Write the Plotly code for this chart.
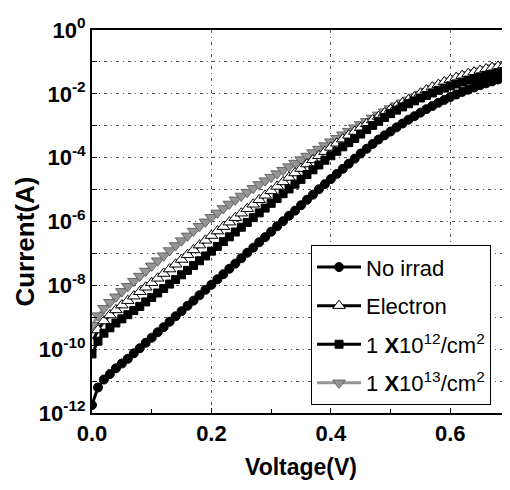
import plotly.graph_objects as go

voltage = [round(i * 0.01, 2) for i in range(71)]

# log10(current in A), one value per 0.01 V
log_no_irrad = [
    -11.75, -11.20, -10.95, -10.78, -10.60, -10.45, -10.30, -10.13, -9.97, -9.80,
    -9.64, -9.47, -9.31, -9.14, -8.97, -8.81, -8.64, -8.48, -8.31, -8.14,
    -7.98, -7.81, -7.65, -7.48, -7.32, -7.15, -6.98, -6.82, -6.65, -6.49,
    -6.32, -6.15, -5.99, -5.82, -5.66, -5.49, -5.32, -5.16, -4.99, -4.83,
    -4.67, -4.51, -4.35, -4.19, -4.03, -3.87, -3.72, -3.57, -3.43, -3.30,
    -3.18, -3.05, -2.93, -2.81, -2.70, -2.59, -2.48, -2.38, -2.28, -2.19,
    -2.10, -2.02, -1.94, -1.87, -1.80, -1.73, -1.67, -1.61, -1.55, -1.50,
    -1.45,
]
log_electron = [
    -9.80, -9.40, -9.12, -8.93, -8.77, -8.62, -8.48, -8.34, -8.20, -8.06,
    -7.92, -7.78, -7.63, -7.49, -7.34, -7.19, -7.04, -6.89, -6.74, -6.59,
    -6.44, -6.30, -6.16, -6.02, -5.88, -5.74, -5.60, -5.46, -5.32, -5.18,
    -5.04, -4.90, -4.76, -4.62, -4.48, -4.34, -4.20, -4.07, -3.94, -3.81,
    -3.68, -3.55, -3.42, -3.30, -3.18, -3.06, -2.94, -2.82, -2.71, -2.60,
    -2.49, -2.39, -2.29, -2.19, -2.10, -1.98, -1.88, -1.79, -1.71, -1.63,
    -1.56, -1.49, -1.43, -1.37, -1.32, -1.27, -1.22, -1.18, -1.14, -1.10,
    -1.06,
]
log_1e12 = [
    -10.15, -9.75, -9.50, -9.33, -9.18, -9.05, -8.92, -8.79, -8.66, -8.52,
    -8.38, -8.24, -8.10, -7.96, -7.82, -7.67, -7.53, -7.38, -7.23, -7.08,
    -6.93, -6.78, -6.63, -6.48, -6.33, -6.18, -6.03, -5.88, -5.73, -5.58,
    -5.43, -5.28, -5.13, -4.98, -4.83, -4.68, -4.53, -4.38, -4.23, -4.08,
    -3.94, -3.80, -3.66, -3.53, -3.40, -3.26, -3.12, -2.99, -2.86, -2.74,
    -2.62, -2.51, -2.41, -2.31, -2.22, -2.13, -2.05, -1.97, -1.89, -1.82,
    -1.75, -1.69, -1.63, -1.57, -1.52, -1.47, -1.42, -1.38, -1.34, -1.30,
    -1.26,
]
log_1e13 = [
    -9.25, -8.95, -8.72, -8.53, -8.36, -8.19, -8.03, -7.87, -7.71, -7.55,
    -7.39, -7.23, -7.07, -6.91, -6.75, -6.60, -6.45, -6.30, -6.15, -6.01,
    -5.87, -5.73, -5.59, -5.45, -5.32, -5.20, -5.08, -4.96, -4.84, -4.72,
    -4.61, -4.50, -4.39, -4.28, -4.17, -4.06, -3.95, -3.84, -3.73, -3.62,
    -3.50, -3.39, -3.28, -3.17, -3.06, -2.96, -2.86, -2.76, -2.66, -2.56,
    -2.46, -2.37, -2.28, -2.19, -2.10, -2.01, -1.92, -1.83, -1.75, -1.67,
    -1.59, -1.52, -1.45, -1.39, -1.33, -1.28, -1.23, -1.18, -1.14, -1.10,
    -1.06,
]

series_names = [
    "No irrad",
    "Electron",
    "1 <b>X</b>10<sup>12</sup>/cm<sup>2</sup>",
    "1 <b>X</b>10<sup>13</sup>/cm<sup>2</sup>",
]

y_tick_exponents = list(range(-12, 1))
x_tick_values = [0.0, 0.2, 0.4, 0.6]
x_tick_labels = ["0.0", "0.2", "0.4", "0.6"]

def cur(logs):
    return [10 ** v for v in logs]

FONT = "Liberation Sans, Arial, sans-serif"

fig = go.Figure()

styles = [
    # (logs, name, symbol, fill, outline, line color, size, rank)
    (log_1e13, series_names[3], "triangle-down", "#959595", "#666666", "#959595", 11, 4),
    (log_electron, series_names[1], "triangle-up", "white", "black", "black", 11, 2),
    (log_1e12, series_names[2], "square", "black", "black", "black", 8, 3),
    (log_no_irrad, series_names[0], "circle", "black", "black", "black", 9, 1),
]
for logs, name, sym, fill, outl, lc, size, rank in styles:
    fig.add_trace(go.Scatter(
        x=voltage, y=cur(logs), name=name, mode="lines+markers",
        line=dict(color=lc, width=3),
        marker=dict(symbol=sym, size=size, color=fill, line=dict(color=outl, width=1)),
        legendrank=rank, legendgroup=str(rank),
    ))

grid_dash = "3px,4px,1px,4px"

fig.update_xaxes(
    range=[0, 0.7], tickvals=x_tick_values, ticktext=x_tick_labels,
    showgrid=True, gridcolor="#555555", griddash=grid_dash, gridwidth=1,
    ticks="inside", ticklen=5, tickcolor="black",
    minor=dict(ticks="inside", ticklen=4, dtick=0.1, tickcolor="black", showgrid=False),
    showline=True, linecolor="black", linewidth=2, mirror=True,
    tickfont=dict(family=FONT, size=22, color="black", weight="bold"),
    zeroline=False,
)
fig.update_yaxes(
    type="log", range=[-12, 0],
    tickvals=[10 ** e for e in y_tick_exponents],
    ticktext=[("10<sup>%d</sup>" % e) if e % 2 == 0 else "" for e in y_tick_exponents],
    showgrid=True, gridcolor="#555555", griddash=grid_dash, gridwidth=1,
    ticks="inside", ticklen=5, tickcolor="black",
    minor=dict(ticks="inside", ticklen=3, tickcolor="black", showgrid=False),
    showline=True, linecolor="black", linewidth=2, mirror=True,
    tickfont=dict(family=FONT, size=22, color="black", weight="bold"),
    zeroline=False,
)

fig.add_annotation(text="Voltage(V)", xref="paper", yref="paper", x=0.5, y=-0.142,
                   xanchor="center", yanchor="middle", showarrow=False,
                   font=dict(family=FONT, size=23, color="black", weight="bold"))
fig.add_annotation(text="Current(A)", xref="paper", yref="paper", x=-0.16, y=0.448,
                   xanchor="center", yanchor="middle", showarrow=False, textangle=-90,
                   font=dict(family=FONT, size=26, color="black", weight="bold"))

fig.update_layout(
    width=510, height=490,
    margin=dict(l=84, r=6, t=17, b=85),
    paper_bgcolor="white", plot_bgcolor="white",
    font=dict(family=FONT, color="black"),
    legend=dict(
        x=0.524, y=0.438, xanchor="left", yanchor="top",
        bgcolor="white", bordercolor="black", borderwidth=1,
        font=dict(family=FONT, size=22, color="black"),
        traceorder="grouped", tracegroupgap=7, itemwidth=44,
    ),
    showlegend=True,
)

fig.write_html("out.html")
